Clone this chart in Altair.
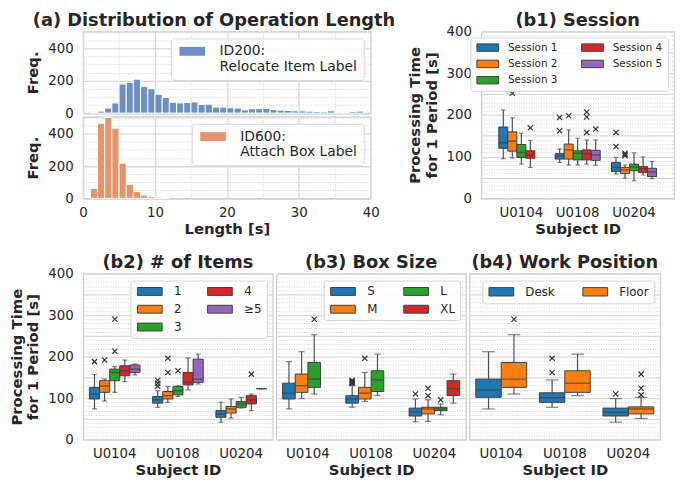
import json
import altair as alt
import pandas as pd

FONT = "DejaVu Sans"
TXT = "#262626"
EDGE = "#3f3f3f"
WHISK = "#505050"
MAJ = "#d9d9d9"
MINC = "#c4c4c4"

subjects = ["U0104", "U0108", "U0204"]

# ---------------- (a) histograms (1 s bins: left edge, count) ----------------
id200_bins = [1, 2, 3, 4, 5, 6, 7, 8, 9, 10, 11, 12, 13, 14, 15, 16, 17, 18, 19, 20,
              21, 22, 23, 24, 25, 26, 27, 28, 29, 30, 31, 32, 33, 34, 35, 36, 37, 38]
id200_counts = [4, 12, 31, 63, 180, 190, 210, 165, 151, 116, 96, 67, 63, 65, 69, 53, 55, 37, 37, 33,
                31, 20, 27, 27, 29, 22, 18, 16, 14, 14, 12, 10, 8, 14, 5, 4, 10, 12]
id600_bins = [1, 2, 3, 4, 5, 6, 7, 8, 9, 10, 11]
id600_counts = [61, 465, 501, 435, 218, 87, 42, 20, 12, 7, 2]
id200_label = ["ID200:", "Relocate Item Label"]
id600_label = ["ID600:", "Attach Box Label"]

# ---------------- (b1) Session ----------------
b1_groups = ["Session 1", "Session 2", "Session 3", "Session 4", "Session 5"]
b1_subject = ["U0104", "U0104", "U0104", "U0104",
              "U0108", "U0108", "U0108", "U0108", "U0108",
              "U0204", "U0204", "U0204", "U0204", "U0204"]
b1_group = ["Session 1", "Session 2", "Session 3", "Session 4",
            "Session 1", "Session 2", "Session 3", "Session 4", "Session 5",
            "Session 1", "Session 2", "Session 3", "Session 4", "Session 5"]
b1_lo = [95, 97, 82, 74, 86, 80, 80, 82, 79, 58, 48, 42, 56, 47]
b1_q1 = [120, 113, 98, 96, 94, 94, 92, 92, 91, 64, 59, 66, 62, 52]
b1_med = [133, 137, 110, 104, 101, 116, 108, 107, 104, 74, 68, 75, 71, 63]
b1_q3 = [171, 159, 129, 114, 107, 130, 114, 116, 115, 86, 74, 82, 76, 72]
b1_hi = [212, 193, 156, 139, 118, 164, 144, 140, 140, 98, 80, 109, 99, 88]
b1_out_subject = ["U0104", "U0104", "U0108", "U0108", "U0108", "U0108", "U0108", "U0108", "U0108",
                  "U0204", "U0204", "U0204", "U0204", "U0204"]
b1_out_group = ["Session 2", "Session 4", "Session 1", "Session 1", "Session 2", "Session 4", "Session 4",
                "Session 4", "Session 5", "Session 1", "Session 1", "Session 2", "Session 2", "Session 2"]
b1_out_value = [252, 169, 194, 162, 198, 207, 195, 158, 166, 158, 124, 102, 105, 108]

# ---------------- (b2) # of Items ----------------
b2_groups = ["1", "2", "3", "4", "≥5"]
b2_subject = ["U0104", "U0104", "U0104", "U0104", "U0104",
              "U0108", "U0108", "U0108", "U0108", "U0108",
              "U0204", "U0204", "U0204", "U0204", "U0204"]
b2_group = ["1", "2", "3", "4", "≥5", "1", "2", "3", "4", "≥5", "1", "2", "3", "4", "≥5"]
b2_lo = [74, 93, 114, 140, 156, 78, 90, 104, 120, 134, 42, 52, 76, 70, 123]
b2_q1 = [98, 114, 142, 154, 162, 88, 98, 108, 132, 138, 54, 64, 78, 86, 123]
b2_med = [110, 129, 162, 166, 170, 96, 106, 118, 138, 146, 62, 74, 86, 96, 123]
b2_q3 = [126, 142, 170, 178, 180, 104, 116, 128, 162, 194, 70, 80, 92, 106, 123]
b2_hi = [157, 146, 176, 192, 182, 118, 128, 130, 197, 206, 90, 98, 102, 110, 123]
b2_out_subject = ["U0104", "U0104", "U0104", "U0104", "U0104",
                  "U0108", "U0108", "U0108", "U0108", "U0108", "U0108", "U0204"]
b2_out_group = ["1", "2", "3", "3", "≥5", "1", "1", "1", "2", "2", "3", "4"]
b2_out_value = [188, 192, 213, 290, 253, 143, 136, 129, 196, 162, 166, 158]

# ---------------- (b3) Box Size ----------------
b3_groups = ["S", "M", "L", "XL"]
b3_subject = ["U0104", "U0104", "U0104", "U0108", "U0108", "U0108", "U0204", "U0204", "U0204", "U0204"]
b3_group = ["S", "M", "L", "S", "M", "L", "S", "M", "L", "XL"]
b3_lo = [74, 99, 110, 78, 92, 106, 43, 44, 60, 88]
b3_q1 = [98, 114, 126, 88, 98, 116, 57, 62, 70, 106]
b3_med = [112, 130, 146, 98, 112, 144, 67, 74, 74, 123]
b3_q3 = [136, 158, 186, 106, 126, 166, 76, 78, 78, 142]
b3_hi = [188, 212, 253, 132, 162, 206, 98, 96, 86, 158]
b3_out_subject = ["U0104", "U0108", "U0108", "U0108", "U0108", "U0108", "U0204", "U0204", "U0204", "U0204"]
b3_out_group = ["L", "S", "S", "S", "S", "M", "S", "M", "M", "L"]
b3_out_value = [290, 135, 138, 141, 143, 196, 110, 106, 124, 96]

# ---------------- (b4) Work Position ----------------
b4_groups = ["Desk", "Floor"]
b4_subject = ["U0104", "U0104", "U0108", "U0108", "U0204", "U0204"]
b4_group = ["Desk", "Floor", "Desk", "Floor", "Desk", "Floor"]
b4_lo = [74, 110, 78, 106, 42, 51]
b4_q1 = [102, 126, 90, 114, 57, 62]
b4_med = [120, 146, 101, 136, 66, 74]
b4_q3 = [146, 186, 113, 166, 76, 79]
b4_hi = [212, 253, 144, 206, 99, 102]
b4_out_subject = ["U0104", "U0108", "U0108", "U0204", "U0204", "U0204", "U0204"]
b4_out_group = ["Floor", "Desk", "Desk", "Desk", "Floor", "Floor", "Floor"]
b4_out_value = [290, 196, 162, 110, 108, 124, 158]

tab10 = ["#1f77b4", "#ff7f0e", "#2ca02c", "#d62728", "#9467bd"]
XPATH = "M-1,-1L1,1M-1,1L1,-1"


def rect_path(w, h):
    k = w / (h / 2.0) - 1
    return f"M-1,-1H{k:.3f}V1H-1Z"


def title(text, offset, dx=0):
    return alt.TitleParams(text, fontSize=18, fontWeight="bold", font=FONT, color=TXT,
                           anchor="middle", frame="group", offset=offset, dx=dx)


def grid_props(step_major):
    test = f"datum.value % {step_major} === 0"
    return dict(
        grid=True,
        gridColor={"condition": {"test": test, "value": MAJ}, "value": MINC},
        gridDash={"condition": {"test": test, "value": []}, "value": [1, 1.5]},
        gridWidth={"condition": {"test": test, "value": 1.3}, "value": 0.8},
    )


def legend(w, h, font, gap, cols, colpad, rowpad, offset, stroke=True, pad=5, **kw):
    extra = dict(symbolStrokeColor=EDGE, symbolStrokeWidth=1) if stroke else dict(symbolStrokeWidth=0)
    return alt.Legend(title=None, orient="top-right", offset=offset, columns=cols,
                      symbolType=rect_path(w, h), symbolSize=h * h, labelFontSize=font,
                      labelOffset=w - h + gap, columnPadding=colpad, rowPadding=rowpad,
                      padding=pad, labelLimit=300, symbolOpacity=1, **extra, **kw)


# ---------------- histogram panel ----------------
def hist_panel(bins, counts, op, color, label_lines, show_x, ttl=None):
    df = pd.DataFrame({"start": bins, "end": [b + 1 for b in bins], "count": counts, "op": op})
    xax = alt.Axis(values=list(range(0, 41, 5)), ticks=False, tickSize=0, domain=False,
                   labels=show_x, labelExpr="datum.value % 10 === 0 ? datum.label : ''",
                   labelOverlap=False, labelFlush=False, labelPadding=7,
                   title="Length [s]" if show_x else None, titlePadding=3, **grid_props(10))
    yax = alt.Axis(values=list(range(0, 501, 50)), ticks=False, tickSize=0, domain=False,
                   labelExpr="datum.value % 200 === 0 ? datum.label : ''", labelOverlap=False,
                   labelPadding=10, title=["", "Freq."], titlePadding=7, titleLineHeight=17,
                   **grid_props(200))
    leg = legend(26, 9, 14, 12, 1, 0, 0, 7, stroke=False, pad=6,
                 labelExpr=json.dumps(label_lines, ensure_ascii=False))
    ch = alt.Chart(df).mark_bar(stroke="white", strokeWidth=1).encode(
        x=alt.X("start:Q", scale=alt.Scale(domain=[0, 40], nice=False, zero=False), axis=xax),
        x2="end:Q",
        y=alt.Y("count:Q", scale=alt.Scale(domain=[0, 505], nice=False), axis=yax),
        y2=alt.datum(0),
        fill=alt.Fill("op:N", scale=alt.Scale(domain=[op], range=[color]), legend=leg),
    ).properties(width=291, height=82.5)
    if ttl is not None:
        ch = ch.properties(title=ttl)
    return ch


# ---------------- box panel ----------------
def box_panel(subj, grp, lo, q1, med, q3, hi, o_subj, o_grp, o_val, field, groups,
              width, height, xpad, offpad, box_w, show_y, leg, ttl):
    box = pd.DataFrame({"subject": subj, field: grp, "lo": lo, "q1": q1, "med": med, "q3": q3, "hi": hi})
    outs = pd.DataFrame({"subject": o_subj, field: o_grp, "value": o_val})
    x = alt.X("subject:N", scale=alt.Scale(domain=subjects, paddingInner=0, paddingOuter=xpad),
              axis=alt.Axis(title="Subject ID", labelAngle=0, ticks=False, tickSize=0, domain=False,
                            grid=False, labelPadding=7, titlePadding=3))
    xo = alt.XOffset(f"{field}:N", scale=alt.Scale(domain=groups, paddingInner=0, paddingOuter=offpad))
    if show_y:
        yax = alt.Axis(values=list(range(0, 401, 10)), ticks=False, tickSize=0, domain=False,
                       labelExpr="datum.value % 100 === 0 ? datum.label : ''", labelOverlap=False,
                       labelPadding=10, title=["Processing Time", "for 1 Period [s]"],
                       titlePadding=7, titleLineHeight=17, **grid_props(50))
    else:
        yax = alt.Axis(values=list(range(0, 401, 10)), ticks=False, tickSize=0, domain=False,
                       labels=False, title=None, **grid_props(50))
    ysc = alt.Scale(domain=[0, 400], nice=False, zero=False)

    def Y(f):
        return alt.Y(f, scale=ysc, axis=yax)

    base = alt.Chart(box)
    whisk = base.mark_rule(color=WHISK, strokeWidth=1.2).encode(x=x, xOffset=xo, y=Y("lo:Q"), y2="hi:Q")
    bars = base.mark_bar(stroke=EDGE, strokeWidth=1).encode(
        x=x, xOffset=xo, y=Y("q1:Q"), y2="q3:Q",
        fill=alt.Fill(f"{field}:N", scale=alt.Scale(domain=groups, range=tab10[:len(groups)]),
                      legend=leg))
    cap_lo = base.mark_tick(color=WHISK, size=box_w / 2, thickness=1.2).encode(x=x, xOffset=xo, y=Y("lo:Q"))
    cap_hi = base.mark_tick(color=WHISK, size=box_w / 2, thickness=1.2).encode(x=x, xOffset=xo, y=Y("hi:Q"))
    meds = base.mark_tick(color=EDGE, size=box_w, thickness=1.4).encode(x=x, xOffset=xo, y=Y("med:Q"))
    pts = alt.Chart(outs).mark_point(shape=XPATH, size=28, filled=False, strokeWidth=1.2,
                                     color="#333333", opacity=1).encode(x=x, xOffset=xo, y=Y("value:Q"))
    return alt.layer(whisk, bars, cap_lo, cap_hi, meds, pts).properties(
        width=width, height=height, title=ttl)


def resolved(ch):
    return ch.resolve_scale(x="independent", y="independent", fill="independent",
                            xOffset="independent").resolve_axis(
        x="independent", y="independent").resolve_legend(fill="independent")


histA = hist_panel(id200_bins, id200_counts, "ID200", "#6f8ec2", id200_label, False,
                   title("(a) Distribution of Operation Length", -5, dx=-13))
histB = hist_panel(id600_bins, id600_counts, "ID600", "#e3956b", id600_label, True)

b1 = box_panel(b1_subject, b1_group, b1_lo, b1_q1, b1_med, b1_q3, b1_hi,
               b1_out_subject, b1_out_group, b1_out_value, "session", b1_groups,
               195, 168.7, 0.21, 0.625, 9.1, True,
               legend(22, 7.5, 10.5, 8, 2, 21, 4.5, 6), title("(b1) Session", -5))
b2 = box_panel(b2_subject, b2_group, b2_lo, b2_q1, b2_med, b2_q3, b2_hi,
               b2_out_subject, b2_out_group, b2_out_value, "items", b2_groups,
               192, 168, 0.0, 0.625, 10.2, True,
               legend(25, 8, 12, 10, 2, 24, 6, 6.5), title("(b2) # of Items", -5))
b3 = box_panel(b3_subject, b3_group, b3_lo, b3_q1, b3_med, b3_q3, b3_hi,
               b3_out_subject, b3_out_group, b3_out_value, "boxsize", b3_groups,
               192, 168, 0.0, 0.5, 12.8, False,
               legend(25, 8, 12, 10, 2, 24, 6, 6.5), title("(b3) Box Size", 2))
b4 = box_panel(b4_subject, b4_group, b4_lo, b4_q1, b4_med, b4_q3, b4_hi,
               b4_out_subject, b4_out_group, b4_out_value, "position", b4_groups,
               193, 168, 0.0, 0.25, 25.6, False,
               legend(25, 8.5, 12, 10, 2, 25, 6, 6.5), title("(b4) Work Position", 2))

panel_a = resolved(alt.vconcat(histA, histB, spacing=3.3, bounds="flush"))
top = resolved(alt.hconcat(panel_a, b1, spacing=10))
bottom = resolved(alt.hconcat(b2, b3, b4, spacing=3.5, bounds="flush"))
chart = resolved(alt.vconcat(top, bottom, spacing=16))

chart = chart.configure(
    font=FONT, padding={"left": 0, "top": 0, "right": 0, "bottom": 0}, background="white"
).configure_view(
    stroke="#cccccc", strokeWidth=1.2
).configure_axis(
    labelFont=FONT, labelFontSize=13.5, labelColor=TXT,
    titleFont=FONT, titleFontSize=15, titleFontWeight="bold", titleColor=TXT
).configure_legend(
    labelFont=FONT, labelColor=TXT, fillColor="rgba(255,255,255,0.9)",
    strokeColor="#d4d4d4", cornerRadius=3
)

chart.save("out.html", embed_options={"renderer": "svg", "actions": False})
